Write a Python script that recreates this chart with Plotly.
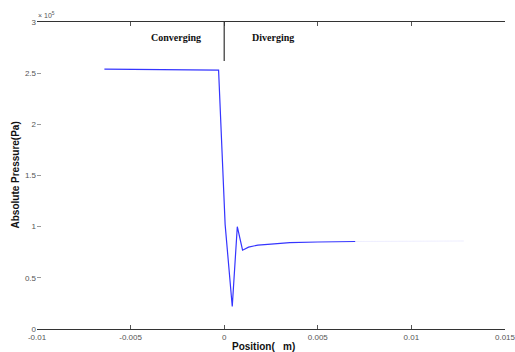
import plotly.graph_objects as go

# Data (position in m, pressure in Pa)
pos = [-0.0064, -0.0003, 0.00005, 0.00043, 0.0007, 0.00098, 0.0013, 0.0018, 0.0025, 0.0035, 0.0050, 0.0070]
pres = [2.54e5, 2.53e5, 1.02e5, 0.22e5, 1.0e5, 0.77e5, 0.80e5, 0.82e5, 0.83e5, 0.845e5, 0.85e5, 0.855e5]
pos_tail = [0.0070, 0.0128]
pres_tail = [0.855e5, 0.86e5]

xticks = [-0.01, -0.005, 0, 0.005, 0.01, 0.015]
xticktext = ["-0.01", "-0.005", "0", "0.005", "0.01", "0.015"]
yticks = [0, 0.5e5, 1e5, 1.5e5, 2e5, 2.5e5, 3e5]
yticktext = ["0", "0.5", "1", "1.5", "2", "2.5", "3"]

fig = go.Figure()
fig.add_trace(go.Scatter(x=pos, y=pres, mode="lines",
                         line=dict(color="#3535ff", width=1.2), showlegend=False))
fig.add_trace(go.Scatter(x=pos_tail, y=pres_tail, mode="lines",
                         line=dict(color="rgba(200,200,255,0.3)", width=1), showlegend=False))

fig.add_shape(type="line", x0=0, x1=0, y0=2.62e5, y1=3e5, xref="x", yref="y",
              line=dict(color="#333", width=1.2))

fig.add_annotation(x=-0.00256, y=2.845e5, text="<b>Converging</b>", showarrow=False,
                   font=dict(family="Liberation Serif", size=10, color="#111"))
fig.add_annotation(x=0.0014, y=2.845e5, text="<b>Diverging</b>", showarrow=False, xanchor="left",
                   font=dict(family="Liberation Serif", size=10, color="#111"))
fig.add_annotation(x=0, y=1.0, xref="paper", yref="paper", xanchor="left", yanchor="bottom",
                   xshift=-1, yshift=1, text="× 10<sup>5</sup>", showarrow=False,
                   font=dict(family="Liberation Sans", size=7, color="#555"))
# axis titles
fig.add_annotation(x=0.483, y=0, xref="paper", yref="paper", xanchor="center", yanchor="middle",
                   yshift=-17, text="<b>Position(   m)</b>", showarrow=False,
                   font=dict(family="Liberation Sans", size=10, color="#111"))
fig.add_annotation(x=0, y=0.5, xref="paper", yref="paper", xanchor="center", yanchor="middle",
                   xshift=-22, textangle=-90, text="<b>Absolute Pressure(Pa)</b>", showarrow=False,
                   font=dict(family="Liberation Sans", size=10, color="#111"))

fig.update_layout(
    width=515, height=352,
    margin=dict(l=37, r=10, t=22, b=23),
    paper_bgcolor="white", plot_bgcolor="white",
    font=dict(family="Liberation Sans", size=8, color="#555"),
    xaxis=dict(range=[-0.01, 0.015], tickvals=xticks, ticktext=xticktext,
               showline=True, linecolor="#333", linewidth=1.2, mirror="ticks",
               ticks="inside", ticklen=4, tickcolor="#555", showgrid=False, zeroline=False,
               automargin=False, ticklabeloverflow="allow"),
    yaxis=dict(range=[0, 3e5], tickvals=yticks, ticktext=yticktext,
               showline=False, ticks="inside", ticklen=4, tickcolor="#999",
               showgrid=False, zeroline=False, automargin=False,
               ticklabeloverflow="allow"),
)

fig.write_html("out.html", config={"displayModeBar": False},
               post_script="document.body.style.margin='0';document.body.style.overflow='hidden';")
